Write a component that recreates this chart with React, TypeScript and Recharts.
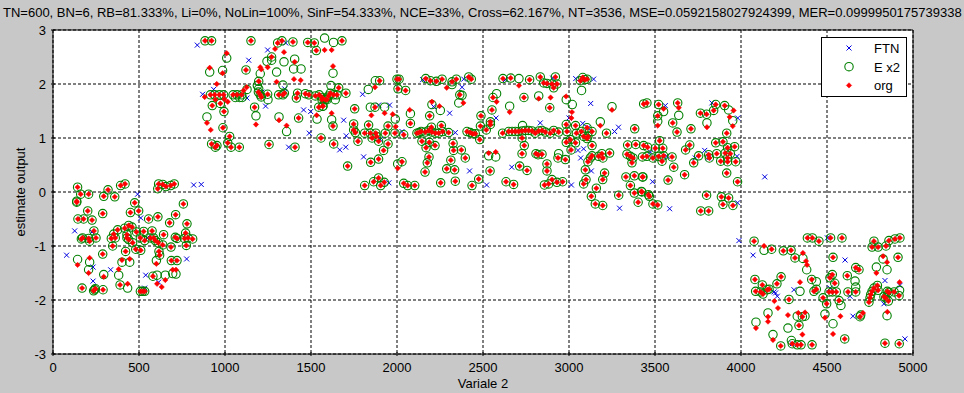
import { ScatterChart, Scatter, XAxis, YAxis, CartesianGrid, ReferenceLine } from 'recharts';

const TITLE = 'TN=600, BN=6, RB=81.333%, Li=0%, NoLin=100%, SinF=54.333%, NCE=33%, Cross=62.167%, NT=3536, MSE=0.0592158027924399, MER=0.0999950175739338';
const xTicks = [0, 500, 1000, 1500, 2000, 2500, 3000, 3500, 4000, 4500, 5000];
const yTicks = [-3, -2, -1, 0, 1, 2, 3];

// points where the circle and the red dot sit on each other
const matched: number[][] = [
  [884,2.8],[922,2.8],[926,1.6],[973,1.64],[994,1.49],[988,1.19],[1027,1.03],[1016,.91],[922,.89],[953,.86],[944,.83],[1035,.83],[1083,.83],
  [915,1.8],[940,1.8],[967,1.8],[992,1.8],[1047,1.8],[1070,1.8],[1097,1.8],[1122,2.26],[1151,2.8],[1172,1.57],[1196,2.05],[1271,2.5],[1306,2.76],[1331,2.8],[1395,2.78],
  [1194,1.85],[1205,1.8],[1211,1.76],[1248,1.81],[1312,1.8],[1337,1.8],[1345,1.83],[1422,1.83],[1415,1.74],[1467,1.82],[1488,1.8],[1525,1.78],[1548,1.8],[1564,1.75],[1583,1.71],[1603,1.78],
  [1428,1.37],[1256,.88],[1407,.83],[1558,1],[1545,1.57],[1570,1.59],[1481,2.77],[1519,2.76],[1531,2.62],[1680,2.8],[1612,1.83],[1631,1.8],[1651,1.8],[1661,1.93],[1703,1.83],[1564,1.71],[1593,1.71],[1568,1.59],[1628,1.22],[1632,.89],
  [1713,.48],[1754,1.54],[1748,1.26],[1748,1.15],[1758,1.1],[1773,.94],[1812,1.09],[1835,1.24],[1845,1.09],[1855,1],[1877,1.09],[1882,1.03],[1893,.94],[1932,1.09],[1948,1.22],[1948,.89],[1922,.77],[1893,.61],[1847,.55],[2029,.56],[1872,1.57],[1899,2.06],[1988,1.09],[2039,1.06],[2078,1.27],
  [1812,.12],[1864,.19],[1893,.26],[1905,.12],[1926,.18],[2000,2.09],[2012,2.09],[2006,1.91],[2050,1.88],
  [2167,2.1],[2194,2.06],[2229,2.05],[2262,2.09],[2320,2.04],[2345,2.09],[2417,2.13],[2432,2.09],[2365,1.8],[2190,1.41],
  [2116,1.09],[2128,1.1],[2140,1.12],[2165,1.11],[2184,1.14],[2203,1.11],[2223,1.09],[2242,1.09],[2265,1.12],[2300,1.1],[2258,1.23],[2200,1.2],[2145,.94],[2188,.92],[2169,.82],[2221,.86],[2186,.65],[2176,.54],[2163,.37],[2326,.9],[2329,.77],[2374,.78],[2397,.63],[2313,.59],[2289,.43],[2335,.41],
  [2039,.16],[2062,.12],[2103,.12],[2254,.17],[2339,.2],[2436,.12],[2475,.24],[2407,1.12],[2426,1.1],[2440,1.08],[2455,1.08],[2481,.97],[2485,1.22],[2488,1.41],[2543,1.3],[2543,1.25],[2519,1.15],[2552,1.52],[2558,1.75],
  [2541,.39],[2634,.19],[2678,.14],[2616,2.1],[2661,2.11],[2771,2.08],[2738,1.75],[2614,1.09],
  [2649,1.12],[2669,1.12],[2688,1.12],[2707,1.12],[2727,1.13],[2746,1.14],[2765,1.14],[2785,1.13],[2804,1.09],[2824,1.13],[2843,1.14],[2862,1.11],[2891,1.09],[2911,1.14],[2940,1.11],
  [2740,.86],[2727,1],[2727,.71],[2713,.48],[2756,.4],[2808,.71],[2820,.69],[2843,.7],[2872,.52],[2872,.39],[2857,.13],[2882,.15],[2901,.23],[2930,.18],[2963,.19],[3099,.23],[3085,.15],[2936,.63],[2979,.6],
  [2833,2.13],[2853,2.02],[2872,2.01],[2901,2],[2921,2.13],[2930,2],[2911,1.93],[2888,1.56],[2988,1.12],[2984,1.25],[3038,1.23],[3043,1.09],[3008,.97],[2984,.92],[3038,.91],[3012,.78],
  [3066,2.06],[3080,2.12],[3092,2.08],[3105,2.09],[3072,1.12],[3105,1.19],[3085,1.03],[3110,1.03],[3134,1.12],[3105,.99],[3134,.86],[3134,.67],[3124,.63],[3110,.56],[3095,.41],[3218,1.09],[3382,1.17],[3191,.71],[3172,.66],[3197,.63],[3236,.72],[3207,.35],[3196,.23],[3159,.07],[3130,-.08],[3153,-.22],[3196,-.25],
  [3289,-.06],[3331,.28],[3380,.3],[3427,.28],[3357,.12],[3380,-.02],[3421,.01],[3402,-.19],[3462,-.05],[3341,.87],[3388,.88],[3434,.86],[3337,.7],[3357,.66],[3372,.63],[3366,.54],[3427,.65],[3453,.66],[3434,1.63],[3453,1.65],
  [3521,1.62],[3516,1.41],[3632,1.65],[3603,1.28],[3628,1.11],[3709,1.17],[3764,1.46],[3800,1.44],[3853,1.62],[3841,1.51],[3905,1.6],[3917,1.09],
  [3527,.95],[3457,.83],[3502,.81],[3545,.81],[3550,.67],[3521,.66],[3488,.63],[3541,.57],[3599,.65],[3609,.46],[3702,.87],[3678,.78],[3754,.67],[3725,.54],[3812,.69],[3816,.63],[3859,.71],[3853,.91],[3895,.93],[3922,.82],[3963,.84],[3908,.72],[3938,.71],[3922,.63],[3922,.56],[3882,.57],[3969,.56],[3917,.35],[3980,.19],[3672,.32],[3576,.22],[3430,.28],
  [3424,0],[3467,-.08],[3488,-.22],[3516,-.24],[3800,-.06],[3886,-.09],[3928,-.11],[3895,-.23],[3953,-.25],[3766,-.35],[3812,-.35],
  [4076,-.91],[4178,-1.06],[4246,-1.09],[4291,-1.08],[4314,-1.22],[4386,-.85],[4415,-.85],[4453,-.91],[4521,-.85],[4587,-.85],[4535,-1.21],
  [4081,-1.62],[4233,-1.57],[4411,-1.62],[4209,-1.7],[4124,-1.72],[4085,-1.84],[4114,-1.85],[4128,-1.89],[4153,-1.81],[4163,-1.8],[4279,-1.99],[4231,-2.85],[4298,-2.81],[4327,-2.83],[4349,-2.83],[4413,-2.83],[4337,-2.47],[4357,-2.31],
  [4424,-1.84],[4438,-1.8],[4477,-1.96],[4498,-2.07],[4603,-2.72],[4570,-2.01],[4512,-1.85],[4531,-1.85],[4554,-1.85],[4545,-1.69],[4531,-1.53],[4517,-1.59],[4618,-1.55],[4622,-1.85],[4667,-1.85],[4667,-1.4],[4686,-1.44],[4692,-2.31],
  [4773,-.91],[4762,-1.02],[4797,-1.02],[4843,-1],[4860,-.9],[4895,-.87],[4924,-.85],[4913,-1.21],[4793,-1.73],[4773,-1.78],[4762,-1.84],[4754,-1.9],[4750,-1.96],[4744,-2.04],[4797,-1.82],[4831,-1.94],[4851,-1.84],[4860,-1.86],[4890,-1.85],[4841,-1.96],[4857,-2.02],[4919,-1.92],[4837,-2.8],[4920,-2.81],
  [138,-.17],[138,-.19],[202,-.35],[289,-.4],[145,-.5],[178,-.5],[227,-.52],[359,-.09],[295,-.08],[207,-.04],[161,-.04],[475,-.2],[498,-.35],[450,-.38],[610,-.46],[556,-.5],[713,-.42],[758,-.22],[678,-.57],[779,-.59],[440,-.62],[459,-.65],[417,-.67],
  [165,-.87],[172,-.85],[207,-.86],[238,-.72],[250,-.85],[213,-.91],[353,-.78],[339,-.86],[362,-.85],[347,-1],[376,-.7],[430,-.79],[430,-.85],[440,-.88],[485,-.74],[527,-.73],[508,-.85],[533,-.9],[463,-.94],[481,-1.06],[510,-1.08],
  [576,-.72],[566,-.85],[585,-.85],[595,-.9],[612,-.94],[643,-.79],[638,-.98],[686,-1.02],[711,-.84],[721,-.86],[771,-.76],[765,-.86],[785,-.85],[812,-.87],[775,-.99],[422,-1.1],[289,-1.15],[616,-1.1],[620,-1.17],[688,-1.27],[721,-1.27],[581,-1.56],
  [169,-1.78],[246,-1.79],[236,-1.83],[242,-1.81],[291,-1.81],[390,-1.72],[508,-1.84],[521,-1.84],[533,-1.84],
  [143,.09],[320,.04],[393,.12],[419,.15],[609,.06],[614,.15],[638,.14],[657,.1],[684,.12],[705,.15],
];

// red dots that have no circle on them
const orgOnly: number[][] = [
  [895,1.28],[917,1.15],[1010,2.57],[911,2.3],[986,2.2],[952,2],[882,1.76],[944,1.71],[996,1.72],[1016,1.67],[1108,1.88],[1126,1.94],[1180,1.25],[1205,2.31],[1211,2.27],[1248,2.31],[1291,2.65],[1343,2.59],[1300,2.04],[1405,2.41],[1401,2.09],[1440,2.07],[1314,1.33],[1358,1.23],[1533,1.42],[1579,2.63],[1620,2.63],[1628,2.33],[1620,1.46],[1872,1.94],[2004,.44],[1851,1.42],[1928,1.46],[1975,1.44],[1992,1.21],[2074,1.52],[2203,1.67],[2247,1.59],[2289,1.93],[2386,1.65],[2579,1.67],[2533,.72],[2574,.74],[2709,1.97],[2655,1.48],[2824,1.73],[2893,1.75],[2983,1.77],[3017,1.48],[3014,1.37],[3182,1.23],[3250,1.52],
  [3550,1.54],[3516,1.23],[3638,1.56],[3802,1.2],[3957,1.51],[3934,1.39],[3952,1.22],
  [4134,-1],[4360,-1.13],[4378,-1.28],[4384,-1.35],[4343,-1.67],[4194,-2.02],[4215,-2.15],[4273,-2.28],[4157,-2.31],[4157,-2.4],[4087,-2.52],[4186,-2.74],[4357,-2.64],[4333,-2.24],[4372,-2.23],[4488,-2.33],[4535,-2.63],[4578,-2.3],[4709,-2.24],[4826,-1.19],[4849,-1.3],[4787,-1.5],[4922,-1.67],[4851,-2.22],
  [143,-1.35],[213,-1.22],[207,-1.5],[382,-1.43],[295,-1.57],[446,-1.24],[401,-1.26],[434,-1.7],[605,-1.7],[653,-1.63],[632,-1.76],[601,-1.33],[696,-1.44],[715,-1.44],
];

// circles standing apart from any red dot
const exOnly: number[][] = [
  [895,1.39],[1010,2.48],[911,2.22],[986,2.25],[1128,1.9],[1180,1.41],[1205,2.19],[1244,2.42],[1271,2.44],[1300,2.22],[1343,2.41],[1337,1.98],[1405,2.46],[1399,2.28],[1442,2.28],[1188,1.97],[1196,1.91],[1250,1.71],[1314,1.39],[1358,1.12],[1535,1.35],[1579,2.85],[1631,2.77],[1628,2.2],[1620,1.34],[1616,1.97],[1641,1.71],[1589,1.74],[1990,1.35],[1833,1.9],[1874,2.06],[1845,1.57],[1928,1.57],[2078,1.45],[2004,.52],[2252,1.51],[2203,1.62],[2320,1.99],[2378,1.79],[2359,1.65],[2579,1.82],[2655,1.59],[2709,2.1],[2824,1.78],[2533,.67],[2574,.65],[2730,1.23],[2940,.71],[2984,1.71],[3019,1.62],[3073,1.88],[3182,1.3],[3250,1.58],
  [3550,1.49],[3638,1.42],[3516,1.31],[3802,1.28],[3952,1.32],[3928,1.52],[1060,1.75],[1085,1.75],[1100,1.75],
  [4134,-1.08],[4360,-1.23],[4382,-1.44],[4826,-1.24],[4787,-1.39],[4849,-1.44],[4663,-1.65],[4667,-1.76],[4343,-1.84],[4438,-1.66],[4157,-2.24],[4087,-2.41],[4186,-2.64],[4273,-2.52],[4327,-2.3],[4372,-2.3],[4293,-2.75],[4488,-2.26],[4535,-2.44],[4581,-2.1],[4849,-2.29],[4696,-2.28],[4922,-1.82],
  [143,-1.25],[213,-1.3],[207,-1.44],[382,-1.54],[295,-1.53],[446,-1.3],[401,-1.3],[434,-1.78],[605,-1.54],[653,-1.54],[601,-1.27],[696,-1.51],[715,-1.52],
];

const ftnPoints: number[][] = [
  [839,2.72],[1138,2.44],[1248,2.63],[1353,2.76],[1347,1.91],[1215,1.85],[870,1.81],[934,1.9],[1128,1.74],[1236,1.59],[1457,1.52],[1498,1.49],[1490,1.09],[1370,.83],[818,.13],[862,.14],[492,-.04],
  [126,-.72],[79,-1.17],[227,-.74],[233,-1.39],[233,-1.65],[335,-1.44],[510,-.48],[539,-1.54],[533,-1.78],[547,-.85],[614,-1.67],[777,-1.24],
  [1800,1.81],[1690,1.33],[1705,1.04],[1667,.78],[1702,.83],[1806,.65],[1893,1.61],[1957,1.61],[1903,.97],[2029,1.12],[2213,1.58],[2306,1.46],[2378,1.94],[2149,2.08],[2388,2.09],[2422,.39],[1953,.17],[2339,1.1],[2521,.13],[2667,.46],[2576,1.37],[2630,2.08],[2833,1.28],[2905,2.11],[3000,1.37],[3014,.13],[3039,2.1],[3143,2.09],[3126,1.64],[3080,1.27],[3110,1.19],[3052,.77],[3085,.8],[3068,.63],[3130,.39],[3265,1.12],[3288,1.2],[3294,-.3],
  [3560,1.6],[3486,.19],[3585,-.31],[3831,1.65],[3981,1.37],[3789,.77],[3812,.63],[3734,.63],[3977,.66],[3473,.74],[4138,.28],[3980,-.2],[3570,.66],
  [3988,-.9],[4070,-1.17],[4502,-.85],[4605,-1.26],[4308,-1.81],[4192,-1.85],[4201,-1.87],[4211,-1.93],[4517,-1.78],[4634,-1.93],[4651,-2.3],[4837,-1.64],[4831,-2.07],[4924,-1.73],[4953,-2.72],[4298,-2.81],
];

const toRows = (pts: number[][]) => pts.map(([x, y]) => ({ x, y }));
const ftnData = toRows(ftnPoints);
const exData = toRows([...matched, ...exOnly]);
const orgData = toRows([...matched, ...orgOnly]);

const font = '"Liberation Sans", Arial, sans-serif';

const CrossMark = ({ cx, cy }: any) => (
  <path d={`M${cx - 2.5} ${cy - 2.5}L${cx + 2.5} ${cy + 2.5}M${cx - 2.5} ${cy + 2.5}L${cx + 2.5} ${cy - 2.5}`} stroke="#0000e0" strokeWidth={1} fill="none" />
);
const CircleMark = ({ cx, cy }: any) => <circle cx={cx} cy={cy} r={4.2} fill="none" stroke="#008000" strokeWidth={1.1} />;
const DotMark = ({ cx, cy }: any) => (
  <path d={`M${cx} ${cy - 2.7}L${cx + 2.7} ${cy}L${cx} ${cy + 2.7}L${cx - 2.7} ${cy}Z`} fill="#ff0000" stroke="#ff0000" strokeWidth={0.5} />
);

const XTick = ({ x, y, payload }: any) => (
  <g>
    <line x1={x} x2={x} y1={y} y2={y - 4} stroke="#000" />
    <text x={x} y={y + 16} textAnchor="middle" fontSize={13} fontFamily={font} fill="#000">{payload.value}</text>
  </g>
);
const YTick = ({ x, y, payload }: any) => (
  <g>
    <line x1={x} x2={x + 4} y1={y} y2={y} stroke="#000" />
    <text x={x - 5} y={y + 5} textAnchor="end" fontSize={13} fontFamily={font} fill="#000">{payload.value}</text>
  </g>
);

const LEGEND_ROWS = [
  { name: 'FTN', Mark: CrossMark },
  { name: 'E x2', Mark: CircleMark },
  { name: 'org', Mark: DotMark },
];
const LegendBox = () => (
  <svg width={86} height={60} style={{ display: 'block' }}>
    <rect x={0.5} y={0.5} width={85} height={59} fill="#fff" stroke="#000" />
    {LEGEND_ROWS.map(({ name, Mark }, i) => (
      <g key={name}>
        <Mark cx={28} cy={11 + i * 18.7} />
        <text x={53} y={16 + i * 18.7} fontSize={13} fontFamily={font} fill="#000">{name}</text>
      </g>
    ))}
  </svg>
);

export default function App() {
  return (
    <div style={{ width: 964, height: 393, background: '#c8c8c8', position: 'relative', overflow: 'hidden' }}>
      <style>{'body{margin:0;background:#c8c8c8}'}</style>
      <ScatterChart width={964} height={393} margin={{ top: 30, right: 51, bottom: 0, left: 0 }}>
        <CartesianGrid fill="#fff" stroke="#000" strokeDasharray="3 2" horizontalValues={yTicks} verticalValues={xTicks} />
        <XAxis
          type="number"
          dataKey="x"
          domain={[0, 5000]}
          ticks={xTicks}
          height={39}
          stroke="#000"
          tickLine={false}
          tickSize={0}
          tick={<XTick />}
          interval={0}
          allowDataOverflow
          label={{ value: 'Variale 2', position: 'insideBottom', offset: 5, fontSize: 13, fontFamily: font, fill: '#000' }}
        />
        <YAxis
          type="number"
          dataKey="y"
          domain={[-3, 3]}
          ticks={yTicks}
          width={53}
          stroke="#000"
          tickLine={false}
          tickSize={0}
          tick={<YTick />}
          interval={0}
          allowDataOverflow
          label={{ value: 'estimate output', angle: -90, position: 'insideLeft', offset: 20, style: { textAnchor: 'middle' }, fontSize: 13, fontFamily: font, fill: '#000' }}
        />
        <ReferenceLine y={3} stroke="#000" strokeWidth={1} />
        <ReferenceLine x={5000} stroke="#000" strokeWidth={1} />
        <Scatter name="FTN" data={ftnData} shape={<CrossMark />} isAnimationActive={false} />
        <Scatter name="E x2" data={exData} shape={<CircleMark />} isAnimationActive={false} />
        <Scatter name="org" data={orgData} shape={<DotMark />} isAnimationActive={false} />
      </ScatterChart>
      <div style={{ position: 'absolute', left: 821, top: 37 }}><LegendBox /></div>
      <div style={{ position: 'absolute', left: 3, top: 6, fontSize: 13, lineHeight: '14px', fontFamily: font, color: '#000', whiteSpace: 'nowrap' }}>{TITLE}</div>
    </div>
  );
}
